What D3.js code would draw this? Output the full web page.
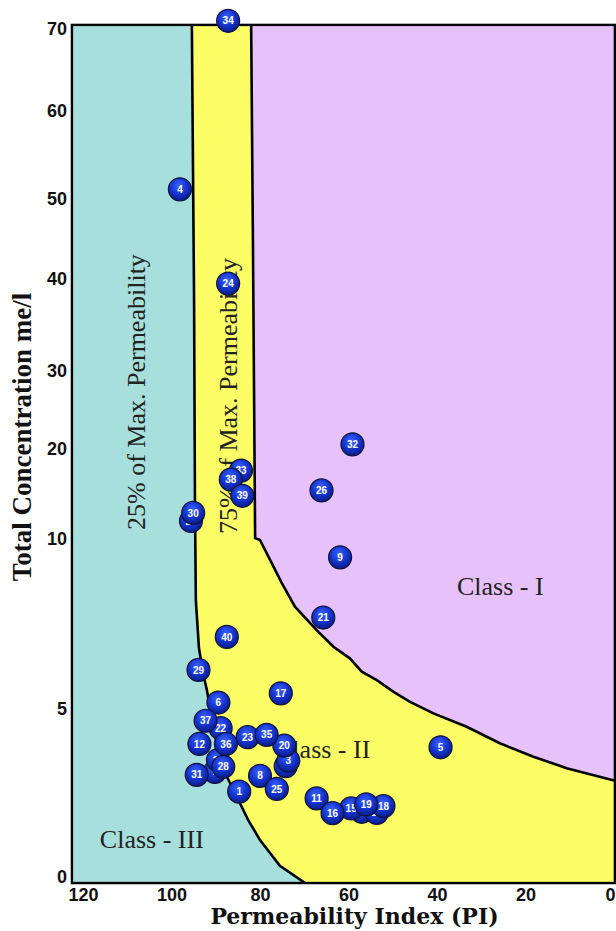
<!DOCTYPE html>
<html><head><meta charset="utf-8">
<script src="https://cdn.jsdelivr.net/npm/d3@7/dist/d3.min.js"></script>
<style>html,body{margin:0;padding:0;background:#fff;} svg{display:block;}</style>
</head><body>
<svg id="chart" width="616" height="931"></svg>
<script>
// ---- data ----
const xTicks = [120, 100, 80, 60, 40, 20, 0];
const yTicks = [0, 5, 10, 20, 30, 40, 50, 60, 70];
const xExtent = [122.5, -0.2];
const yExtent = [-0.18, 70.5];

const sampleIds  = [1,2,3,4,5,6,7,8,9,10,11,12,13,14,15,16,17,18,19,20,21,22,23,24,25,26,27,28,29,30,31,32,33,34,35,36,37,38,39,40];
const samplePI   = [84.7,74.2,73.6,98.1,39.2,89.4,90.2,80.0,61.9,89.5,67.2,93.7,57.0,53.6,59.4,63.6,75.3,52.1,56.0,74.5,65.7,88.9,82.8,87.2,76.2,66.1,95.6,88.3,93.9,95.1,94.3,59.1,84.3,87.2,78.5,87.7,92.3,86.6,84.0,87.5];
const sampleConc = [2.54,3.30,3.46,51.1,3.86,5.19,3.13,3.01,9.46,3.48,2.34,3.96,1.94,1.91,2.04,1.90,5.46,2.11,2.16,3.91,7.69,4.43,4.16,39.5,2.62,15.4,12.0,3.28,6.15,12.9,3.04,20.6,17.6,71.0,4.23,3.96,4.65,16.6,14.8,7.12];

// 25% of max permeability curve (Class III / Class II)
const line25PI   = [95.4,94.9,94.7,94.5,93.8,92.9,92.0,90.9,89.5,87.7,85.2,82.7,80.0,75.5,69.8];
const line25Conc = [70.5,37.7,14.3,8.2,6.8,6.06,5.56,4.67,3.78,3.04,2.38,1.70,1.10,0.33,-0.18];
// 75% of max permeability curve (Class II / Class I)
const line75PI   = [82.0,81.6,81.1,80.0,77.7,75.1,72.1,67.2,63.4,59.7,57.0,53.6,49.9,46.1,40.8,33.3,25.8,18.2,10.7,0.2,-0.2];
const line75Conc = [70.5,44.9,10.1,9.97,9.38,8.71,8.01,7.32,6.83,6.49,6.10,5.85,5.51,5.21,4.87,4.47,3.98,3.58,3.24,2.88,2.87];

const regionLabels = [
  {text: "Class - III", pi: 116.2, conc: 0.86},
  {text: "Class - II",  pi: 76.6,  conc: 3.54},
  {text: "Class - I",   pi: 35.5,  conc: 8.35}
];
const curveLabels = [
  {text: "25% of Max. Permeability", pi: 107.8, conc: 27.3},
  {text: "75% of Max. Permeability", pi: 87.2,  conc: 26.8}
];

// ---- scales ----
const x = d3.scaleLinear().domain([120, 0]).range([83, 614]);
const y = d3.scaleLinear().domain(yTicks).range([877, 709, 539, 449, 371, 279, 199, 111, 29]);

const svg = d3.select("#chart");
const defs = svg.append("defs");
const grad = defs.append("radialGradient").attr("id", "ball")
  .attr("cx", "45%").attr("cy", "35%").attr("r", "65%");
grad.append("stop").attr("offset", "0%").attr("stop-color", "#3d63ff");
grad.append("stop").attr("offset", "55%").attr("stop-color", "#1535d0");
grad.append("stop").attr("offset", "100%").attr("stop-color", "#0a1a85");

const fx0 = x(xExtent[0]), fx1 = x(xExtent[1]);
const fy0 = y(yExtent[1]), fy1 = y(yExtent[0]);

defs.append("clipPath").attr("id", "frameClip").append("rect")
  .attr("x", fx0).attr("y", fy0).attr("width", fx1 - fx0).attr("height", fy1 - fy0);

const line = d3.line().x(d => x(d[0])).y(d => y(d[1]));
const pts25 = line25PI.map((p, i) => [p, line25Conc[i]]);
const pts75 = line75PI.map((p, i) => [p, line75Conc[i]]);

const plot = svg.append("g").attr("clip-path", "url(#frameClip)");
// Class II background
plot.append("rect").attr("x", fx0).attr("y", fy0).attr("width", fx1 - fx0).attr("height", fy1 - fy0)
  .attr("fill", "#fdfd66");
// Class III region
plot.append("path")
  .attr("d", line([[xExtent[0], yExtent[1]], ...pts25, [xExtent[0], yExtent[0]]]) + "Z")
  .attr("fill", "#a7dfdd");
// Class I region
plot.append("path")
  .attr("d", line([...pts75, [xExtent[1] - 1, line75Conc[line75Conc.length - 1]], [xExtent[1] - 1, yExtent[1] + 1]]) + "Z")
  .attr("fill", "#e7c1f9");
// boundary lines
plot.append("path").attr("d", line(pts25)).attr("fill", "none").attr("stroke", "#000").attr("stroke-width", 2.6);
plot.append("path").attr("d", line(pts75)).attr("fill", "none").attr("stroke", "#000").attr("stroke-width", 2.6);

// frame
svg.append("rect").attr("x", fx0).attr("y", fy0).attr("width", fx1 - fx0).attr("height", fy1 - fy0)
  .attr("fill", "none").attr("stroke", "#000").attr("stroke-width", 2.4);

// axes
const xAxis = svg.append("g").attr("transform", `translate(0,${fy1})`)
  .call(d3.axisBottom(x).tickValues(xTicks).tickFormat(d3.format("d")).tickSize(0).tickPadding(5));
const yAxis = svg.append("g").attr("transform", `translate(${fx0},0)`)
  .call(d3.axisLeft(y).tickValues(yTicks).tickFormat(d3.format("d")).tickSize(0).tickPadding(5));
[xAxis, yAxis].forEach(a => {
  a.select(".domain").remove();
  a.selectAll("text").attr("font-family", "'Liberation Sans', Arial, sans-serif")
    .attr("font-weight", "bold").attr("font-size", 18).attr("fill", "#111");
});
xAxis.selectAll(".tick").filter(d => d === 0).select("text").attr("dx", -4);

// axis titles
svg.append("text").attr("x", (x(120) + x(0)) / 2 + 6).attr("y", 924)
  .attr("text-anchor", "middle").attr("font-family", "'DejaVu Serif', serif").attr("font-weight", "bold")
  .attr("font-size", 22).attr("fill", "#111").text("Permeability Index (PI)");
svg.append("text").attr("transform", `translate(31,${y(20) - 12}) rotate(-90)`)
  .attr("text-anchor", "middle").attr("font-family", "'Liberation Serif', 'Times New Roman', serif").attr("font-weight", "bold")
  .attr("font-size", 27).attr("fill", "#111").text("Total Concentration me/l");

// curve labels (rotated)
curveLabels.forEach(l => {
  svg.append("text").attr("transform", `translate(${x(l.pi)},${y(l.conc)}) rotate(-90)`)
    .attr("text-anchor", "middle").attr("dominant-baseline", "central")
    .attr("font-family", "'Liberation Serif', 'Times New Roman', serif").attr("font-size", 26)
    .attr("fill", "#222").text(l.text);
});
// region labels
regionLabels.forEach(l => {
  svg.append("text").attr("x", x(l.pi)).attr("y", y(l.conc))
    .attr("font-family", "'Liberation Serif', 'Times New Roman', serif").attr("font-size", 26)
    .attr("fill", "#222").text(l.text);
});

// sample points
const samples = sampleIds.map((id, i) => ({id, pi: samplePI[i], conc: sampleConc[i]}));
const g = svg.append("g").selectAll("g").data(samples).join("g")
  .attr("transform", d => `translate(${x(d.pi)},${y(d.conc)})`);
g.append("circle").attr("r", 11.5).attr("fill", "url(#ball)").attr("stroke", "#10143a").attr("stroke-width", 1.2);
g.append("text").attr("text-anchor", "middle").attr("dy", "0.36em")
  .attr("font-family", "'Liberation Sans', Arial, sans-serif").attr("font-weight", "bold")
  .attr("font-size", 10).attr("fill", "#fff").text(d => d.id);
</script>
</body></html>
